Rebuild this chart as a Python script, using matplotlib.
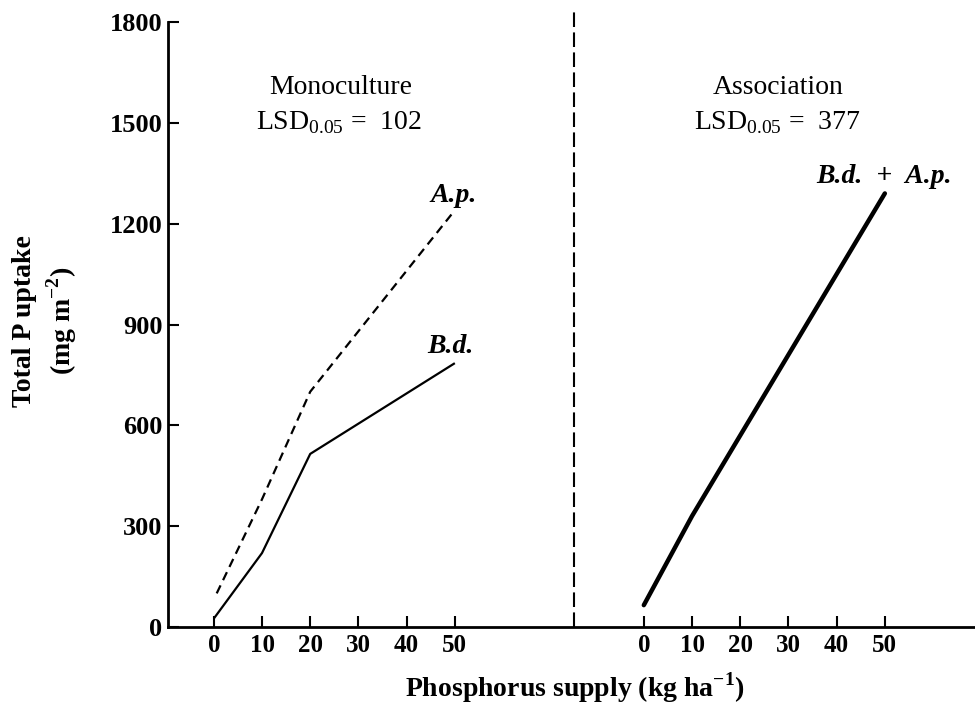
import matplotlib
matplotlib.use("Agg")
import matplotlib.pyplot as plt
import numpy as np

plt.rcParams['font.family'] = ['Liberation Serif', 'DejaVu Serif']
plt.rcParams['mathtext.fontset'] = 'custom'
plt.rcParams['mathtext.rm'] = 'Liberation Serif'
plt.rcParams['mathtext.bf'] = 'Liberation Serif:bold'

# Data
p_supply = [0, 10, 20, 50]
ap_mono = [100, 380, 700, 1240]
bd_mono = [25, 220, 515, 785]
p_supply_assoc = [0, 10, 20, 30, 40, 50]
assoc = [65, 330, 570, 810, 1050, 1290]
tick_vals = [0, 10, 20, 30, 40, 50]
y_ticks = [0, 300, 600, 900, 1200, 1500, 1800]

offset = 89.2      # horizontal shift of the association panel
divider = 74.7

fig = plt.figure(figsize=(9.75, 7.11), dpi=100)
ax = fig.add_axes([168/975, 1-627/711, 1-168/975, (627-22)/711])
ax.set_xlim(-9.5, 157.9)
ax.set_ylim(0, 1800)

ax.plot([x + 0.6 for x in p_supply[:1]] + p_supply[1:], ap_mono, color='black', lw=1.6,
        linestyle=(0, (4, 2.6)))
ax.plot(p_supply, bd_mono, color='black', lw=1.6, solid_capstyle='butt')
ax.plot([offset + x for x in p_supply_assoc], assoc, color='black', lw=3.2,
        solid_capstyle='round')

ax.plot([divider, divider], [0, 1830], color='black', lw=1.5,
        linestyle=(0, (7, 2.6)), clip_on=False)

for s in ['top', 'right']:
    ax.spines[s].set_visible(False)
for s in ['left', 'bottom']:
    ax.spines[s].set_linewidth(2.0)

xt = tick_vals + [offset + v for v in tick_vals]
ax.set_xticks(xt)
ax.set_xticklabels([str(v) for v in tick_vals] * 2, fontsize=18, fontweight='bold')
ax.set_yticks(y_ticks)
ax.set_yticklabels([str(v) for v in y_ticks], fontsize=19, fontweight='bold')
ax.tick_params(axis='both', direction='in', length=8, width=1.5)
ax.tick_params(axis='x', pad=5)
ax.tick_params(axis='y', pad=4)

tf = dict(fontsize=20, ha='center', va='center', color='black')
ax.text(26.3, 1604, 'Monoculture', **tf)
ax.text(26.0, 1502, r'LSD$_{\mathrm{0.05}}$ =  102', **tf)
ax.text(117, 1604, 'Association', **tf)
ax.text(117, 1502, r'LSD$_{\mathrm{0.05}}$ =  377', **tf)

lf = dict(fontsize=20, ha='center', va='center', style='italic', fontweight='bold')
ax.text(49.8, 1285, 'A.p.', **lf)
ax.text(49.0, 835, 'B.d.', **lf)
ax.text(139.0, 1340, 'B.d.  +  A.p.', **lf)

fig.text(25/975, 1-321/711, 'Total P uptake', rotation=90, ha='center', va='center',
         fontsize=20, fontweight='bold')
fig.text(62/975, 1-321/711, r'(mg m$^{\mathbf{-2}}$)', rotation=90, ha='center', va='center',
         fontsize=20, fontweight='bold')
fig.text(575/975, 1-688/711, r'Phosphorus supply (kg ha$^{\mathbf{-1}}$)', ha='center', va='center',
         fontsize=20, fontweight='bold')

fig.savefig('out.png', dpi=100)
